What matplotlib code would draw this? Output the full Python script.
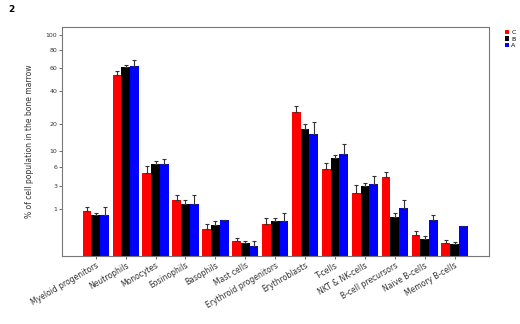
import numpy as np
import matplotlib
matplotlib.use("Agg")
import matplotlib.pyplot as plt
from matplotlib.patches import Patch

categories = ["Myeloid progenitors", "Neutrophils", "Monocytes", "Eosinophils",
              "Basophils", "Mast cells", "Erythroid progenitors", "Erythroblasts",
              "T-cells", "NKT & NK-cells", "B-cell precursors", "Naive B-cells",
              "Memory B-cells"]
series_names = ["C", "B", "A"]
vals_C = [0.91, 53.4, 5.0, 1.61, 0.24, 0.072, 0.37, 26.1, 5.75, 2.24, 4.24, 0.137, 0.057]
vals_B = [0.70, 60.5, 6.8, 1.34, 0.34, 0.053, 0.46, 17.8, 8.2, 2.99, 0.63, 0.094, 0.046]
vals_A = [0.70, 62.1, 6.65, 1.34, 0.51, 0.036, 0.46, 15.6, 9.2, 3.28, 1.06, 0.51, 0.33]
err_C = [0.19, 3.8, 1.34, 0.47, 0.14, 0.027, 0.21, 3.6, 1.25, 0.87, 0.95, 0.071, 0.027]
err_B = [0.11, 2.0, 0.53, 0.25, 0.11, 0.019, 0.13, 2.3, 0.69, 0.46, 0.18, 0.029, 0.020]
err_A = [0.40, 6.1, 1.28, 0.74, 0.0, 0.033, 0.32, 5.1, 2.8, 1.12, 0.55, 0.174, 0.0]
ytick_vals = [1, 3, 6, 10, 20, 40, 60, 80, 100]
colors = ["#ff0000", "#000000", "#0000ff"]

fig = plt.figure(figsize=(5.2, 3.24), dpi=100)
ax = fig.add_axes([62/520, 1-256/324, (489-62)/520, (256-26.5)/324])

p = 0.3
fwd = lambda v: np.sign(v) * np.abs(v) ** p
inv = lambda t: np.sign(t) * np.abs(t) ** (1 / p)
ax.set_yscale("function", functions=(fwd, inv))

x = np.arange(len(categories))
w = 0.293
for i, (vals, errs, c) in enumerate(zip([vals_C, vals_B, vals_A], [err_C, err_B, err_A], colors)):
    xs = x + (i - 1) * w
    ax.bar(xs, vals, width=w, color=c, edgecolor="none", zorder=2, bottom=0)
    lower = np.zeros(len(vals))
    ax.errorbar(xs, vals, yerr=[lower, errs], fmt="none", ecolor="#333333",
                elinewidth=0.8, capsize=1.2, capthick=0.8, zorder=3)

ax.set_ylim(0.0044, 112.4)
ax.set_xlim(-1.13, 13.15)
ax.set_yticks(ytick_vals)
ax.set_yticklabels([str(v) for v in ytick_vals], fontsize=4.5)
ax.minorticks_off()
ax.set_xticks(x)
ax.set_xticklabels(categories, rotation=30, ha="right", rotation_mode="anchor", fontsize=5.5, color="#333333")
ax.tick_params(axis="both", length=2, width=0.6, color="#555555", pad=1.5)
ax.tick_params(axis="y", labelcolor="#333333")
for s in ax.spines.values():
    s.set_color("#777777")
    s.set_linewidth(0.8)
ax.set_ylabel("% of cell population in the bone marrow", fontsize=5.5, color="#333333", labelpad=8)

handles = [Patch(facecolor=c, edgecolor="none") for c in colors]
fig.legend(handles, series_names, loc="upper left", bbox_to_anchor=(505/520, 1-30/324),
           frameon=False, fontsize=4.5, handlelength=0.7, handleheight=0.7,
           handletextpad=0.3, labelspacing=0.15, borderpad=0, borderaxespad=0)

fig.text(8/520, 1-10/324, "2", fontsize=6.5, fontweight="bold", va="center", ha="left")

fig.savefig("out.png", dpi=100)
